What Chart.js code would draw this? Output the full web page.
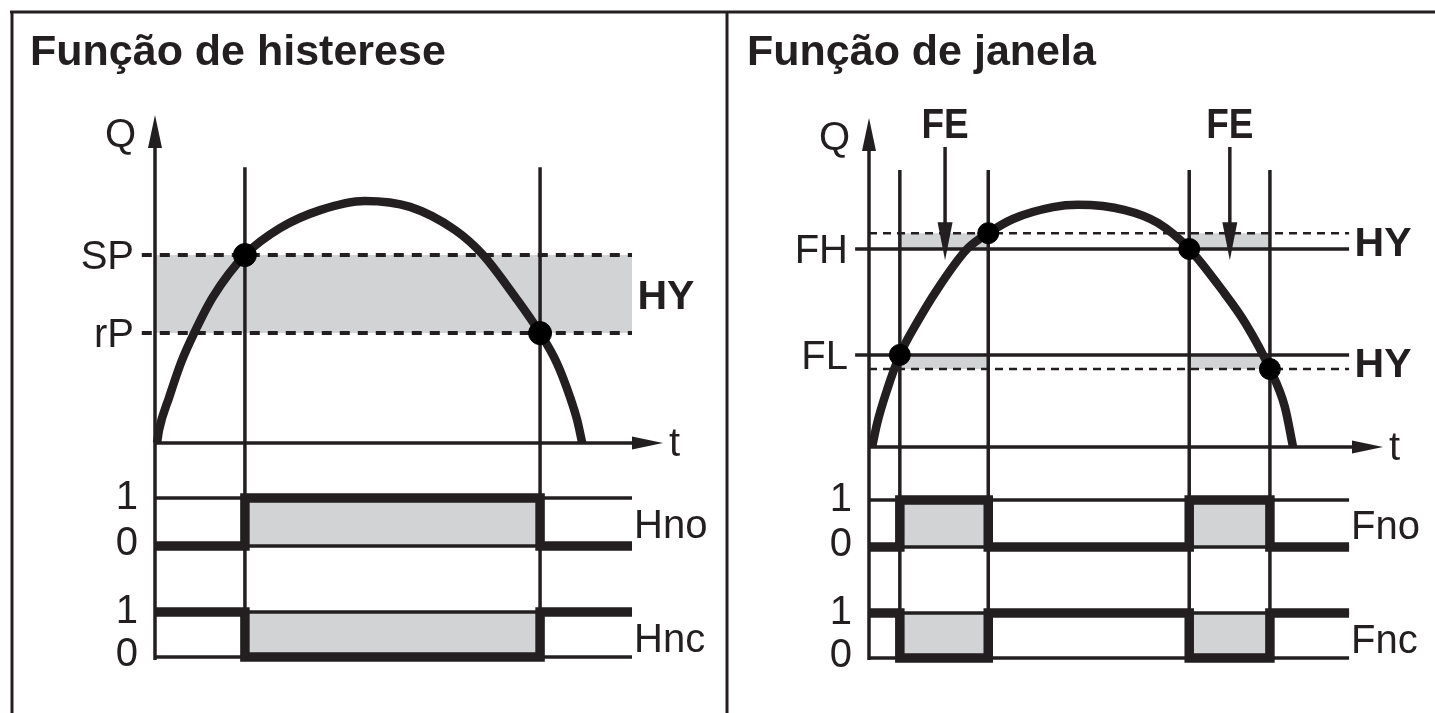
<!DOCTYPE html>
<html>
<head>
<meta charset="utf-8">
<title>Função de histerese / Função de janela</title>
<script src="https://cdn.jsdelivr.net/npm/chart.js@4.4.1/dist/chart.umd.min.js"></script>
<style>
  html, body { margin: 0; padding: 0; background: #fff; }
  #wrap { position: relative; width: 1435px; height: 713px; }
  #wrap canvas { position: absolute; left: 0; top: 0; }
</style>
</head>
<body>
<div id="wrap">
  <canvas id="hystChart" width="1435" height="713"></canvas>
  <canvas id="windowChart" width="1435" height="713"></canvas>
</div>
<script>
// time t: 0..100 along the t axis, Q: 0..100 up the Q axis

// hysteresis function (left)
const hystTitle = 'Função de histerese';
const hystCurveT = [0.4, 0.8, 2.8, 5.1, 7.7, 11.4, 17.7, 24.6, 32.5, 41.3, 50.2, 59.1, 64.6, 70.9, 75.8, 79.1, 81.7, 83.1, 84.1];
const hystCurveQ = [0, 4.0, 14.0, 24.4, 33.5, 44.5, 57.3, 65.5, 71.0, 73.8, 72.0, 64.9, 57.3, 44.5, 33.5, 24.4, 14.0, 7.0, 0];
const hystLevels = [57.3, 33.5];
const hystLevelLabels = ['SP', 'rP'];
const hystDotT = [17.7, 75.8];
const hystDotQ = [57.3, 33.5];
const hystMarkT = [17.7, 75.8];
const hystStepT = [0, 17.7, 75.8, 93.9];
const hystNo = [0, 1, 0, 0];
const hystNc = [1, 0, 1, 1];
const hystOnSpans = [[17.7, 75.8]];
const hystOutputs = ['Hno', 'Hnc'];
const hystLineStart = -2.6;
const hystLineEnd = 93.9;
const hystMarkTop = 84.1;

// window function (right)
const winTitle = 'Função de janela';
const winCurveT = [0.6, 1.6, 3.5, 6.0, 9.3, 13.2, 19.1, 23.2, 28.0, 35.8, 40.7, 49.8, 56.2, 62.3, 68.7, 73.2, 78.0, 80.9, 82.5];
const winCurveQ = [0, 7.3, 17.3, 28.0, 37.7, 47.7, 60.2, 65.0, 69.3, 72.9, 73.6, 72.0, 68.1, 60.2, 47.7, 37.7, 23.7, 12.2, 0];
const winLevels = [60.2, 28.0];
const winHyLevels = [65.0, 23.7];
const winLevelLabels = ['FH', 'FL'];
const winDotT = [6.0, 23.2, 62.3, 78.0];
const winDotQ = [28.0, 65.0, 60.2, 23.7];
const winMarkT = [6.0, 23.2, 62.3, 78.0];
const winStepT = [0, 6.0, 23.2, 62.3, 78.0, 93.4];
const winNo = [0, 1, 0, 1, 0, 0];
const winNc = [1, 0, 1, 0, 1, 1];
const winOnSpans = [[6.0, 23.2], [62.3, 78.0]];
const winOutputs = ['Fno', 'Fnc'];
const winFeT = [14.8, 70.2];
const winFeFrom = 91.2;
const winFeTo = 56.8;
const winLineStart = -2.7;
const winLineEnd = 93.4;
const winMarkTop = 84.2;

const stateTicks = ['1', '0'];
const hyLabel = 'HY';
const feLabel = 'FE';

const INK = '#231f20';
const GREY = '#d1d3d4';
const FONT = '"Liberation Sans", Arial, Helvetica, sans-serif';

// min/max so that v0 lands on pixel p0 and v1 on p1 inside [top, bottom]
function fitAxis(v0, p0, v1, p1, top, bottom) {
    const k = (p0 - p1) / (v1 - v0);
    return { min: v0 - (bottom - p0) / k, max: v1 + (p1 - top) / k };
}

function pts(xs, ys) {
    return xs.map((x, i) => ({ x: x, y: ys[i] }));
}

function hline(t0, t1, v) {
    return [{ x: t0, y: v }, { x: t1, y: v }];
}

function line(data, axis, width, extra) {
    return Object.assign({
        data: data,
        yAxisID: axis,
        borderColor: INK,
        borderWidth: width,
        pointRadius: 0,
        fill: false,
        clip: false,
        tension: 0,
        borderJoinStyle: 'miter'
    }, extra || {});
}

function band(t0, t1, hi, lo, axis) {
    return line(hline(t0, t1, hi), axis, 0, {
        borderColor: 'rgba(0,0,0,0)',
        backgroundColor: GREY,
        fill: { value: lo }
    });
}

function arrow(ctx, x, y, dir, len, half) {
    ctx.beginPath();
    ctx.moveTo(x, y);
    if (dir === 'up') {
        ctx.lineTo(x - half, y + len);
        ctx.lineTo(x + half, y + len);
    } else if (dir === 'down') {
        ctx.lineTo(x - half, y - len);
        ctx.lineTo(x + half, y - len);
    } else {
        ctx.lineTo(x - len, y - half);
        ctx.lineTo(x - len, y + half);
    }
    ctx.closePath();
    ctx.fill();
}

const diagramPlugin = {
    id: 'diagram',
    beforeDraw(chart, args, o) {
        if (!o.frame) return;
        const ctx = chart.ctx;
        ctx.save();
        ctx.strokeStyle = INK;
        ctx.lineWidth = 3;
        ctx.beginPath();
        ctx.moveTo(10, 12);
        ctx.lineTo(chart.width, 12);
        ctx.moveTo(12, 12);
        ctx.lineTo(12, chart.height);
        ctx.moveTo(727, 12);
        ctx.lineTo(727, chart.height);
        ctx.stroke();
        ctx.restore();
    },
    afterDatasetsDraw(chart, args, o) {
        const ctx = chart.ctx;
        const a = chart.chartArea;
        const sx = chart.scales.x, sq = chart.scales.q, sno = chart.scales.no, snc = chart.scales.nc;
        const x0 = sx.getPixelForValue(0);
        const y0 = sq.getPixelForValue(0);
        const xEnd = sx.getPixelForValue(o.lineEnd);

        ctx.save();
        ctx.strokeStyle = INK;
        ctx.fillStyle = INK;
        ctx.lineWidth = 3.5;

        // axes
        ctx.beginPath();
        ctx.moveTo(x0, a.bottom);
        ctx.lineTo(x0, a.top + 25);
        ctx.moveTo(x0 - 1.75, y0);
        ctx.lineTo(a.right - 25, y0);
        ctx.stroke();
        arrow(ctx, x0, a.top, 'up', 33, 7);
        arrow(ctx, a.right, y0, 'right', 31, 6.5);

        // FE arrows
        (o.feT || []).forEach(t => {
            const fx = sx.getPixelForValue(t);
            const tip = sq.getPixelForValue(o.feTo);
            ctx.beginPath();
            ctx.moveTo(fx, sq.getPixelForValue(o.feFrom));
            ctx.lineTo(fx, tip - 30);
            ctx.stroke();
            arrow(ctx, fx, tip, 'down', 38, 7.5);
        });

        ctx.textBaseline = 'alphabetic';
        ctx.font = 'bold 43px ' + FONT;
        ctx.textAlign = 'left';
        ctx.fillText(o.title, o.titleX, 65);

        ctx.font = '40px ' + FONT;
        ctx.textAlign = 'right';
        ctx.fillText('Q', x0 - 19, a.top + 32);
        o.levelLabels.forEach((s, i) => {
            ctx.fillText(s, x0 - 21, sq.getPixelForValue(o.levelValues[i]) + 14);
        });
        [sno, snc].forEach(s => {
            ctx.fillText(stateTicks[0], x0 - 17, s.getPixelForValue(1) + 11);
            ctx.fillText(stateTicks[1], x0 - 17, s.getPixelForValue(0) + 9);
        });
        ctx.textAlign = 'left';
        ctx.fillText('t', a.right + 6, y0 + 12.5);
        ctx.fillText(o.outputs[0], xEnd + 2, sno.getPixelForValue(0) - 8);
        ctx.fillText(o.outputs[1], xEnd + 2, snc.getPixelForValue(0) - 5);

        ctx.font = 'bold 41px ' + FONT;
        o.hyBands.forEach(b => {
            const mid = (sq.getPixelForValue(b[0]) + sq.getPixelForValue(b[1])) / 2;
            ctx.fillText(hyLabel, xEnd + 5.5, mid + 15);
        });

        ctx.font = 'bold 42px ' + FONT;
        ctx.textAlign = 'center';
        (o.feT || []).forEach(t => {
            const fx = sx.getPixelForValue(t);
            ctx.save();
            ctx.translate(fx, sq.getPixelForValue(o.feFrom) - 9);
            ctx.scale(0.88, 1);
            ctx.fillText(feLabel, 0, 0);
            ctx.restore();
        });
        ctx.restore();
    }
};

function buildPanel(id, p) {
    const area = p.area;
    const qAxis = fitAxis(0, p.qZeroPx, 100, area.top, area.top, area.bottom);
    const noAxis = fitAxis(0, p.noPx[1], 1, p.noPx[0], area.top, area.bottom);
    const ncAxis = fitAxis(0, p.ncPx[1], 1, p.ncPx[0], area.top, area.bottom);

    const datasets = [];
    datasets.push(line(pts(p.dotT, p.dotQ), 'q', 0, {
        showLine: false,
        pointRadius: p.dotRadius,
        pointBackgroundColor: '#000',
        pointBorderColor: '#000',
        pointBorderWidth: 1
    }));
    datasets.push(line(pts(p.curveT, p.curveQ), 'q', 8.5, { cubicInterpolationMode: 'monotone', borderJoinStyle: 'round' }));
    datasets.push(line(pts(p.stepT, p.no), 'no', 9.5, { stepped: 'before' }));
    datasets.push(line(pts(p.stepT, p.nc), 'nc', 9.5, { stepped: 'before' }));
    ['no', 'nc'].forEach(ax => {
        datasets.push(line(hline(0, p.lineEnd, 1), ax, 3.5));
        datasets.push(line(hline(0, p.lineEnd, 0), ax, 3.5));
    });
    p.thresholds.forEach(th => datasets.push(th));
    p.markT.forEach(t => {
        datasets.push(line([{ x: t, y: p.markTop }, { x: t, y: qAxis.min }], 'q', 3.5));
    });
    p.bands.forEach(b => datasets.push(b));
    p.onSpans.forEach(s => {
        datasets.push(band(s[0], s[1], 1, 0, 'no'));
        datasets.push(band(s[0], s[1], 1, 0, 'nc'));
    });

    return new Chart(document.getElementById(id), {
        type: 'line',
        data: { datasets: datasets },
        plugins: [diagramPlugin],
        options: {
            responsive: false,
            animation: false,
            events: [],
            layout: {
                padding: { left: area.left, top: area.top, right: 1435 - area.right, bottom: 713 - area.bottom }
            },
            plugins: {
                legend: { display: false },
                tooltip: { enabled: false },
                diagram: {
                    frame: p.frame,
                    title: p.title,
                    titleX: p.titleX,
                    lineEnd: p.lineEnd,
                    levelLabels: p.levelLabels,
                    levelValues: p.levelValues,
                    hyBands: p.hyBands,
                    outputs: p.outputs,
                    feT: p.feT,
                    feFrom: p.feFrom,
                    feTo: p.feTo
                }
            },
            scales: {
                x: { type: 'linear', min: 0, max: 100, display: false },
                q: { type: 'linear', axis: 'y', min: qAxis.min, max: qAxis.max, display: false },
                no: { type: 'linear', axis: 'y', min: noAxis.min, max: noAxis.max, display: false },
                nc: { type: 'linear', axis: 'y', min: ncAxis.min, max: ncAxis.max, display: false }
            }
        }
    });
}

buildPanel('hystChart', {
    frame: true,
    title: hystTitle,
    titleX: 30,
    area: { left: 155, right: 663, top: 115, bottom: 660 },
    qZeroPx: 443,
    noPx: [498, 546],
    ncPx: [612, 657],
    curveT: hystCurveT,
    curveQ: hystCurveQ,
    dotT: hystDotT,
    dotQ: hystDotQ,
    dotRadius: 11.5,
    stepT: hystStepT,
    no: hystNo,
    nc: hystNc,
    onSpans: hystOnSpans,
    markT: hystMarkT,
    markTop: hystMarkTop,
    lineEnd: hystLineEnd,
    thresholds: hystLevels.map(v => line(hline(hystLineStart, hystLineEnd, v), 'q', 4, { borderDash: [10, 8] })),
    bands: [band(0, hystLineEnd, hystLevels[0], hystLevels[1], 'q')],
    levelLabels: hystLevelLabels,
    levelValues: hystLevels,
    hyBands: [[hystLevels[0], hystLevels[1]]],
    outputs: hystOutputs
});

buildPanel('windowChart', {
    frame: false,
    title: winTitle,
    titleX: 747,
    area: { left: 869, right: 1383, top: 118, bottom: 660 },
    qZeroPx: 447,
    noPx: [500, 547],
    ncPx: [613, 658],
    curveT: winCurveT,
    curveQ: winCurveQ,
    dotT: winDotT,
    dotQ: winDotQ,
    dotRadius: 10.5,
    stepT: winStepT,
    no: winNo,
    nc: winNc,
    onSpans: winOnSpans,
    markT: winMarkT,
    markTop: winMarkTop,
    lineEnd: winLineEnd,
    thresholds: winLevels.map(v => line(hline(winLineStart, winLineEnd, v), 'q', 3.5))
        .concat(winHyLevels.map(v => line(hline(0, winLineEnd, v), 'q', 2.5, { borderDash: [8, 6] }))),
    bands: winOnSpans.map(s => band(s[0], s[1], winHyLevels[0], winLevels[0], 'q'))
        .concat(winOnSpans.map(s => band(s[0], s[1], winLevels[1], winHyLevels[1], 'q'))),
    levelLabels: winLevelLabels,
    levelValues: winLevels,
    hyBands: [[winHyLevels[0], winLevels[0]], [winLevels[1], winHyLevels[1]]],
    outputs: winOutputs,
    feT: winFeT,
    feFrom: winFeFrom,
    feTo: winFeTo
});
</script>
</body>
</html>
